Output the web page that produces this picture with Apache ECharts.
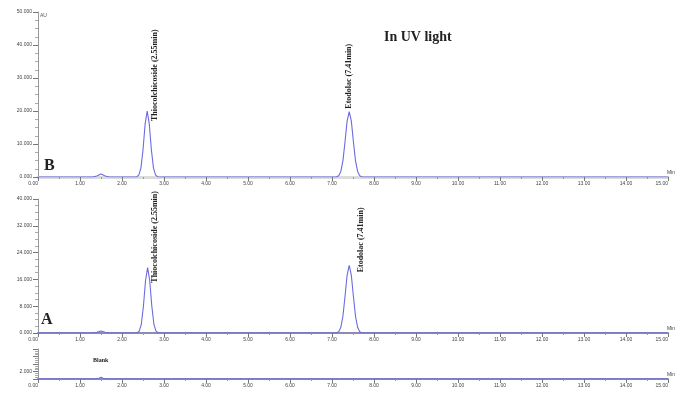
<!DOCTYPE html>
<html>
<head>
<meta charset="utf-8">
<script src="https://cdn.jsdelivr.net/npm/echarts@6/dist/echarts.min.js"></script>
<style>
  html, body { margin: 0; padding: 0; background: #fff; }
  #chart { width: 676px; height: 394px; }
</style>
</head>
<body>
<div id="chart"></div>
<script>
  // retention time (min), detector response
  const traceB = [
    [0, 0], [1.3, 0], [1.4, 0.3], [1.5, 0.9], [1.6, 0.3], [1.7, 0],
    [2.3, 0], [2.35, 0.08], [2.4, 0.56], [2.45, 2.7], [2.5, 8.2], [2.55, 16], [2.6, 20],
    [2.65, 16], [2.7, 8.2], [2.75, 2.7], [2.8, 0.56], [2.85, 0.08], [2.9, 0],
    [7.1, 0], [7.16, 0.4], [7.21, 1.7], [7.26, 4.9], [7.31, 10.7], [7.36, 17], [7.41, 19.8],
    [7.46, 17], [7.51, 10.7], [7.56, 4.9], [7.61, 1.7], [7.66, 0.4], [7.72, 0],
    [15, 0]
  ];
  const traceA = [
    [0, 0], [1.3, 0], [1.4, 0.2], [1.5, 0.6], [1.6, 0.2], [1.7, 0],
    [2.3, 0], [2.36, 0.08], [2.41, 0.55], [2.46, 2.6], [2.51, 8], [2.56, 15.6], [2.61, 19.5],
    [2.66, 15.6], [2.71, 8], [2.76, 2.6], [2.81, 0.55], [2.86, 0.08], [2.91, 0],
    [7.1, 0], [7.16, 0.4], [7.21, 1.7], [7.26, 5], [7.31, 10.9], [7.36, 17.3], [7.41, 20.2],
    [7.46, 17.3], [7.51, 10.9], [7.56, 5], [7.61, 1.7], [7.66, 0.4], [7.72, 0],
    [15, 0]
  ];
  const traceBlank = [
    [0, 0], [1.35, 0], [1.45, 0.2], [1.5, 0.5], [1.55, 0.2], [1.65, 0], [15, 0]
  ];
  const peakNames = ['Thiocolchicoside (2.55min)', 'Etodolac (7.41min)'];
  const peaksB = [[2.6, 20], [7.41, 19.8]];
  const peaksA = [[2.61, 19.5], [7.41, 20.2]];

  const chart = echarts.init(document.getElementById('chart'));
  const serif = 'Liberation Serif';
  const traceColor = '#6b6be0';

  function xAxisFor(gridIndex) {
    return {
      type: 'value', gridIndex: gridIndex, min: 0, max: 15, interval: 1,
      name: 'Min', nameLocation: 'end', nameGap: 7,
      nameTextStyle: { fontSize: 5, color: '#444', align: 'right', verticalAlign: 'bottom', padding: [0, 0, 2, 0] },
      axisLine: { onZero: false, lineStyle: { color: '#8c8cb0', width: 2 } },
      axisTick: { length: 4, lineStyle: { color: '#777' } },
      minorTick: { show: true, splitNumber: 2, length: 2, lineStyle: { color: '#999' } },
      axisLabel: {
        fontSize: 5, color: '#444', margin: 4, alignMinLabel: 'right', alignMaxLabel: 'right',
        formatter: v => v.toFixed(2)
      },
      splitLine: { show: false }
    };
  }
  function yAxisFor(gridIndex, max, interval, fmt) {
    return {
      type: 'value', gridIndex: gridIndex, min: 0, max: max, interval: interval,
      axisLine: { show: true, lineStyle: { color: '#999', width: 1 } },
      axisTick: { show: true, length: 5, lineStyle: { color: '#777' } },
      minorTick: { show: true, splitNumber: 4, length: 3, lineStyle: { color: '#aaa' } },
      axisLabel: { fontSize: 5, color: '#444', margin: 6, formatter: fmt },
      splitLine: { show: false }
    };
  }
  const fixed3 = v => v.toFixed(3);

  // offsets are given in the rotated label frame: [-down, right]
  function peakLabels(peaks, offsets) {
    return {
      symbol: 'circle', symbolSize: 0, silent: true,
      label: {
        show: true, rotate: 90, align: 'left', verticalAlign: 'middle',
        fontFamily: serif, fontWeight: 'bold', fontSize: 8, color: '#222',
        formatter: p => p.name
      },
      data: peaks.map((p, i) => ({ name: peakNames[i], coord: p, label: { offset: offsets[i] } }))
    };
  }

  const option = {
    animation: false,
    grid: [
      { left: 38, right: 7, top: 12, height: 165 },
      { left: 38, right: 7, top: 199, height: 134 },
      { left: 38, right: 7, top: 349, height: 30 }
    ],
    xAxis: [
      xAxisFor(0), xAxisFor(1), xAxisFor(2),
      {
        type: 'value', gridIndex: 0, position: 'top', min: 0, max: 15,
        axisLine: { show: true, lineStyle: { color: '#dcdcdc', width: 3 } },
        axisTick: { show: false }, axisLabel: { show: false }, splitLine: { show: false }
      }
    ],
    yAxis: [
      yAxisFor(0, 50, 10, fixed3),
      yAxisFor(1, 40, 8, fixed3),
      yAxisFor(2, 8, 2, v => (v === 2 ? '2.000' : ''))
    ],
    graphic: [
      { type: 'text', left: 384, top: 30, style: { text: 'In UV light', font: 'bold 14px "Liberation Serif"', fill: '#222' } },
      { type: 'text', left: 44, top: 158, style: { text: 'B', font: 'bold 16px "Liberation Serif"', fill: '#222' } },
      { type: 'text', left: 41, top: 312, style: { text: 'A', font: 'bold 16px "Liberation Serif"', fill: '#222' } },
      { type: 'text', left: 93, top: 357, style: { text: 'Blank', font: 'bold 6px "Liberation Serif"', fill: '#222' } },
      { type: 'text', left: 40, top: 13, style: { text: 'AU', font: '5px sans-serif', fill: '#555' } }
    ],
    series: [
      {
        type: 'line', xAxisIndex: 0, yAxisIndex: 0, data: traceB, showSymbol: false,
        lineStyle: { color: traceColor, width: 1.1 },
        markPoint: peakLabels(peaksB, [[-10, 8], [3, 0]])
      },
      {
        type: 'line', xAxisIndex: 1, yAxisIndex: 1, data: traceA, showSymbol: false,
        lineStyle: { color: traceColor, width: 1.1 },
        markPoint: peakLabels(peaksA, [[-15, 7], [-7, 12]])
      },
      {
        type: 'line', xAxisIndex: 2, yAxisIndex: 2, data: traceBlank, showSymbol: false,
        lineStyle: { color: traceColor, width: 1.1 }
      }
    ]
  };
  chart.setOption(option);
</script>
</body>
</html>
